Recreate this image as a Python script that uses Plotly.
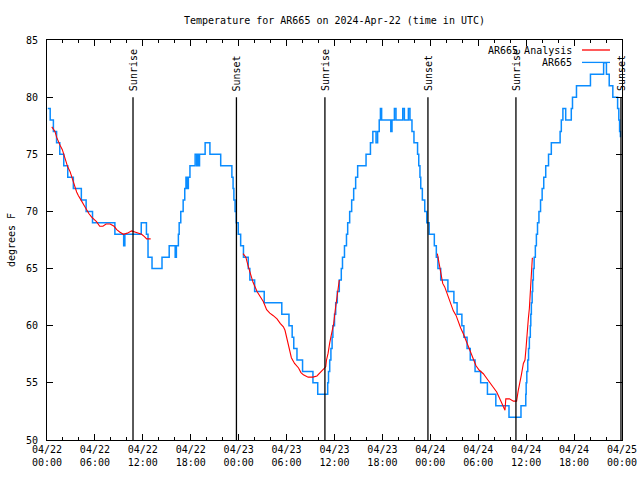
import pandas as pd
import plotly.graph_objects as go

BASE = pd.Timestamp("2024-04-22 00:00")

# Observed AR665 temperature (hours since 04/22 00:00 UTC, deg F) - step changes
obs_hours = [0.1, 0.4, 0.8, 1.2, 1.6, 2.1, 2.6, 3.3, 4.3, 4.9, 5.7, 8.5, 9.6, 9.75, 11.8,
             12.45, 12.65, 13.15, 14.4, 15.3, 16.05, 16.2, 16.45, 16.55, 16.75, 17.05, 17.25,
             17.4, 17.55, 17.7, 17.9, 18.55, 18.75, 18.85, 19.0, 19.1, 19.8, 20.4, 21.75,
             23.15, 23.3, 23.4, 23.55, 23.7, 23.95, 24.25, 24.6, 25.2, 25.4, 26.0, 27.2, 29.4,
             30.3, 30.7, 30.9, 31.3, 32.0, 33.3, 33.9, 35.15, 35.25, 35.4, 35.55, 35.7, 35.8,
             36.0, 36.15, 36.35, 36.6, 36.85, 37.0, 37.25, 37.5, 37.65, 37.9, 38.15, 38.4,
             38.65, 38.9, 39.95, 40.5, 40.8, 41.2, 41.4, 41.6, 41.75, 41.9, 43.05, 43.2, 43.5,
             43.7, 44.55, 44.75, 45.25, 45.45, 45.7, 45.95, 46.4, 46.55, 46.7, 46.8, 47.0,
             47.3, 47.55, 47.85, 48.5, 48.75, 48.95, 49.3, 50.2, 50.95, 51.35, 51.95, 52.2,
             52.6, 53.0, 53.6, 54.3, 55.15, 56.2, 57.85, 59.35, 59.95, 60.0, 60.08, 60.2,
             60.3, 60.4, 60.52, 60.58, 60.65, 60.75, 60.82, 60.9, 61.0, 61.15, 61.28, 61.42,
             61.6, 61.8, 62.0, 62.2, 62.45, 62.8, 63.15, 64.25, 64.4, 64.6, 64.95, 65.65,
             65.8, 66.3, 68.05, 69.7, 70.05, 70.4, 70.85, 71.45, 71.6, 71.7, 71.8]
obs_temps = [79, 78, 77, 76, 75, 74, 73, 72, 71, 70, 69, 68, 67, 68, 69,
             68, 66, 65, 66, 67, 66, 67, 68, 69, 70, 71, 72,
             73, 72, 73, 74, 75, 74, 75, 74, 75, 76, 75, 74,
             73, 72, 71, 70, 69, 68, 67, 66, 65, 64, 63, 62, 61,
             60, 59, 58, 57, 56, 55, 54, 55, 56, 57, 58, 59, 60,
             61, 62, 63, 64, 65, 66, 67, 68, 69, 70, 71, 72,
             73, 74, 75, 76, 77, 76, 77, 78, 79, 78, 77, 78, 79,
             78, 79, 78, 79, 78, 77, 76, 75, 74, 73, 72, 71,
             70, 69, 68, 67, 66, 65, 64, 63, 62, 61, 60, 59,
             58, 57, 56, 55, 54, 53, 52, 53, 54, 55, 56, 57,
             58, 59, 60, 61, 62, 63, 64, 65, 66, 67, 68, 69,
             70, 71, 72, 73, 74, 75, 76, 77, 78, 79, 78, 79,
             80, 81, 82, 83, 82, 81, 80, 79, 78, 77, 76.5]

# Analysis temperature (three segments separated by None)
ana_hours = [0.6, 1.0, 1.2, 1.42, 1.63, 1.92, 2.17, 2.34, 2.59, 2.88, 3.09, 3.3, 3.51, 3.71,
             3.92, 4.13, 4.34, 4.67, 4.97, 5.26, 5.59, 5.9, 6.2, 6.6, 7.0, 7.4, 7.9, 8.4,
             8.73, 9.1, 9.56, 10.06, 10.6, 11.0, 11.4, 11.85, 12.2, 12.48, 12.98,
             None,
             24.55, 24.9, 25.2, 25.5, 25.8, 26.3, 26.7, 27.1, 27.5, 27.9, 28.3, 28.8, 29.2,
             29.6, 29.8, 30.0, 30.2, 30.4, 30.6, 31.0, 31.5, 31.8, 32.1, 32.7, 33.3, 33.8,
             34.4, 34.9, 35.0, 35.2, 35.4, 35.6, 35.9, 36.1, 36.3, 36.5, 36.6,
             None,
             48.88, 49.13, 49.35, 49.55, 49.8, 50.05, 50.47, 50.7, 50.88, 51.22, 51.51, 51.8,
             52.13, 52.47, 52.76, 53.05, 53.38, 53.72, 54.13, 54.64, 55.05, 55.47, 55.89,
             56.31, 56.64, 57.0, 57.35, 57.45, 57.9, 58.4, 58.8, 59.0, 59.2, 59.4, 59.65,
             59.85, 59.98, 60.06, 60.27, 60.4, 60.48, 60.6, 60.7, 60.77, 60.85]
ana_temps = [77.4, 77.0, 76.5, 76.1, 75.8, 75.4, 74.8, 74.4, 73.9, 73.5, 73.0, 72.5, 72.0, 71.7,
             71.4, 71.1, 70.9, 70.5, 70.1, 69.8, 69.5, 69.3, 69.1, 68.7, 68.7, 68.9, 68.9, 68.7,
             68.4, 68.2, 68.0, 68.1, 68.3, 68.2, 68.1, 68.0, 67.8, 67.6, 67.6,
             None,
             66.3, 66.0, 65.2, 64.5, 63.8, 63.0, 62.5, 62.1, 61.4, 61.1, 60.9, 60.6, 60.2,
             59.9, 59.6, 59.0, 58.4, 57.9, 57.2, 56.7, 56.3, 55.9, 55.7, 55.5, 55.5, 55.6,
             56.0, 56.4, 57.0, 57.6, 58.5, 59.3, 60.2, 61.4, 62.5, 63.6, 64.0,
             None,
             66.3, 65.4, 64.5, 63.7, 63.4, 62.9, 62.0, 61.7, 61.3, 60.9, 60.3, 59.8,
             59.3, 58.7, 58.1, 57.7, 57.1, 56.5, 56.1, 55.8, 55.4, 55.0, 54.7,
             54.2, 53.7, 53.2, 52.6, 53.6, 53.6, 53.4, 53.4, 54.3, 55.2, 55.7, 56.7,
             57.0, 58.0, 58.9, 60.6, 61.5, 62.4, 63.8, 65.3, 65.9, 65.9]

# Sun events (hours since 04/22 00:00 UTC)
sun_names = ["Sunrise", "Sunset", "Sunrise", "Sunset", "Sunrise", "Sunset"]
sun_hours = [10.77, 23.72, 34.8, 47.7, 58.72, 71.87]

# Axis ticks
x_tick_hours = [0, 6, 12, 18, 24, 30, 36, 42, 48, 54, 60, 66, 72]
x_tick_text = ["04/22<br>00:00", "04/22<br>06:00", "04/22<br>12:00", "04/22<br>18:00",
               "04/23<br>00:00", "04/23<br>06:00", "04/23<br>12:00", "04/23<br>18:00",
               "04/24<br>00:00", "04/24<br>06:00", "04/24<br>12:00", "04/24<br>18:00",
               "04/25<br>00:00"]
y_ticks = [50, 55, 60, 65, 70, 75, 80, 85]

series_names = ["AR665 Analysis", "AR665"]
series_colors = ["#ff0000", "#0a8cff"]


def to_time(hours):
    return [None if h is None else BASE + pd.Timedelta(hours=h) for h in hours]


FONT = dict(family="DejaVu Sans Mono", size=10, color="black")
FIG_W, FIG_H = 640, 480

fig = go.Figure()
fig.add_trace(go.Scatter(x=to_time(obs_hours), y=obs_temps, mode="lines",
                         name=series_names[1], showlegend=False,
                         line=dict(color=series_colors[1], width=1.5, shape="hv")))
fig.add_trace(go.Scatter(x=to_time(ana_hours), y=ana_temps, mode="lines",
                         name=series_names[0], showlegend=False, connectgaps=False,
                         line=dict(color=series_colors[0], width=1.1)))

shapes = []
annotations = []
for name, h in zip(sun_names, sun_hours):
    t = BASE + pd.Timedelta(hours=h)
    shapes.append(dict(type="line", xref="x", yref="y", x0=t, x1=t, y0=50, y1=80,
                       line=dict(color="black", width=1.3), layer="above"))
    annotations.append(dict(x=t, y=80, xref="x", yref="y", text=name, textangle=-90,
                            showarrow=False, xanchor="center", yanchor="bottom",
                            yshift=4, font=FONT))

# Legend (gnuplot style: text then line sample)
leg_y = [0.975, 0.944]
for name, color, yy in zip(series_names, series_colors, leg_y):
    annotations.append(dict(x=0.9165, y=yy, xref="paper", yref="paper", text=name,
                            showarrow=False, xanchor="right", yanchor="middle", font=FONT))
    shapes.append(dict(type="line", xref="paper", yref="paper", x0=0.9304, x1=0.9791,
                       y0=yy, y1=yy, line=dict(color=color, width=1.3)))

fig.update_layout(
    width=FIG_W, height=FIG_H,
    margin=dict(l=47, r=18, t=40, b=40, autoexpand=False),
    paper_bgcolor="white", plot_bgcolor="white",
    font=FONT,
    title=dict(text="Temperature for AR665 on 2024-Apr-22 (time in UTC)",
               x=0.5, xref="paper", xanchor="center",
               y=1 - 20 / FIG_H, yref="container", yanchor="middle", font=FONT),
    shapes=shapes, annotations=annotations,
    showlegend=False,
)
fig.update_xaxes(
    type="date", range=[BASE, BASE + pd.Timedelta(hours=72)], automargin=False,
    tickmode="array", tickvals=to_time(x_tick_hours), ticktext=x_tick_text,
    ticks="inside", ticklen=6, tickcolor="black", tickwidth=1,
    minor=dict(tickmode="linear", tick0=BASE, dtick=2 * 3600 * 1000, ticks="inside",
               ticklen=3, tickcolor="black", tickwidth=1, showgrid=False),
    showline=True, linecolor="black", linewidth=1, mirror="ticks",
    showgrid=False, zeroline=False, tickfont=FONT,
)
fig.update_yaxes(
    range=[50, 85], tickmode="array", tickvals=y_ticks, automargin=False,
    ticks="inside", ticklen=6, tickcolor="black", tickwidth=1,
    showline=True, linecolor="black", linewidth=1, mirror="ticks",
    showgrid=False, zeroline=False, tickfont=FONT, ticklabelstandoff=6,
    title=dict(text="degrees F", font=FONT, standoff=8),
)

# Remove the browser's default 8px page margin so the 640x480 figure fills the window.
fig.write_html(
    "out.html",
    config={"displayModeBar": False},
    post_script="document.body.style.margin='0';document.documentElement.style.overflow='hidden';",
)
